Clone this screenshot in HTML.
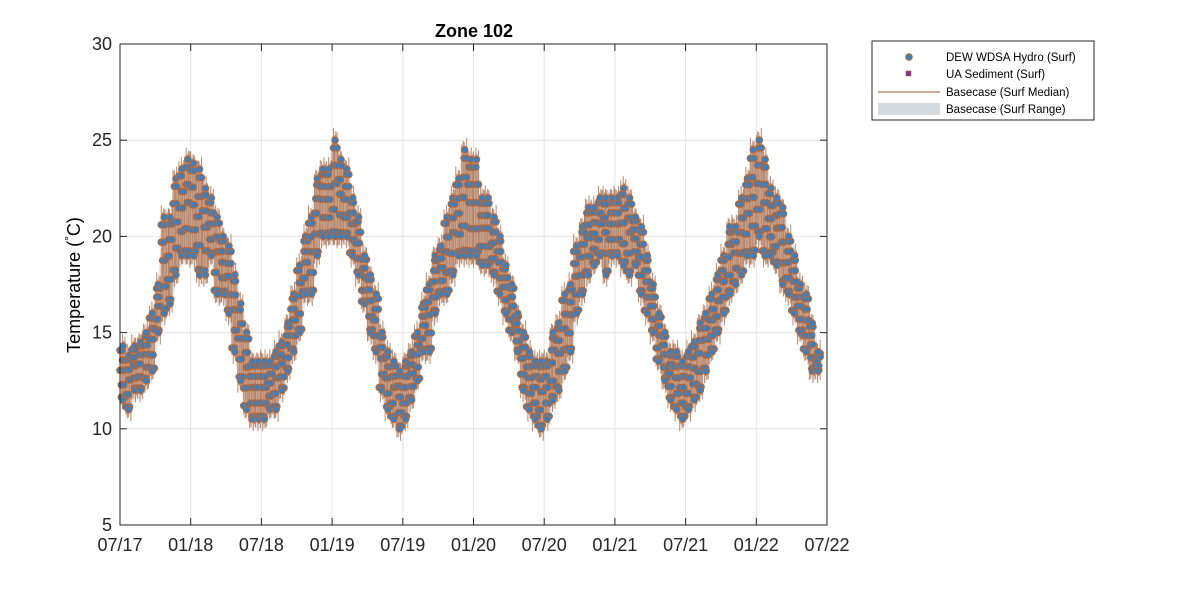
<!DOCTYPE html>
<html><head><meta charset="utf-8"><style>
html,body{margin:0;padding:0;background:#fff;}
svg text{font-family:"Liberation Sans",Arial,sans-serif;}
</style></head><body>
<svg id="chart" width="1181" height="591" viewBox="0 0 1181 591" xmlns="http://www.w3.org/2000/svg">
<rect width="1181" height="591" fill="#fff"/>
<g id="grid"></g>
<g id="band"></g>
<g id="med"></g>
<g id="pts"></g>
<rect x="120" y="44" width="707" height="481" fill="none" stroke="#262626" stroke-width="1"/>
<g id="axes"></g>
<text x="474" y="37" text-anchor="middle" font-size="18" font-weight="bold" fill="#000">Zone 102</text>
<text transform="translate(80,285) rotate(-90)" text-anchor="middle" font-size="18" fill="#000">Temperature (<tspan font-size="12" dy="-7">°</tspan><tspan dy="7">C)</tspan></text>
<g>
<rect x="872" y="41" width="222" height="79" fill="#fff" stroke="#262626" stroke-width="1"/>
<g><circle cx="909" cy="57" r="3.3" fill="#3a7fbf" stroke="#c0662f" stroke-width="1"/><text x="946" y="61" font-size="11.5" fill="#000">DEW WDSA Hydro (Surf)</text></g>
<g><rect x="906" y="71" width="5" height="5" fill="#7e2f8e" stroke="#c06060" stroke-width="0.6"/><text x="946" y="78" font-size="11.5" fill="#000">UA Sediment (Surf)</text></g>
<g><line x1="878" y1="92" x2="940" y2="92" stroke="#a0522d" stroke-width="1"/><text x="946" y="96" font-size="11.5" fill="#000">Basecase (Surf Median)</text></g>
<g><rect x="878" y="103" width="62" height="12" fill="#d3dbdf"/><text x="946" y="113" font-size="11.5" fill="#000">Basecase (Surf Range)</text></g>
</g>
</svg>
<script>
const yTicks=[5,10,15,20,25,30];
const xTickLabels=["07/17","01/18","07/18","01/19","07/19","01/20","07/20","01/21","07/21","01/22","07/22"];
const obsLo=[11.5,11,12,12,12.5,13,15,16,16.5,18,19,19,19,18,18,19,17,17,16,14,12.5,11,10.5,10.5,10.5,11,11,12,13,14,15,17,17,19,20,20,20,20,20,19,18,16.5,15,14,12,11,10.5,10,10.5,11.5,12.5,14,14,16,17,17,18,19,19,19,19,18.5,18.5,18,17,16,15,14,12,11,10.5,10,10.5,11.5,12,13,14,16,17,18,18.5,19,18,19,19,18.5,18,18.5,17,16,15,13.5,12.5,11.5,11,10.5,11,11.5,12,13,14,15,16,17,17.5,18,19,19,20,19,19,18.5,17.5,17,16,15,14,13,13];
const obsHi=[14.3,13.8,14.3,14.5,15,16,17.5,21,21,23,23.5,24,23.8,23.5,22.5,22,21,20,19.5,18,16.5,15,13.5,13.5,13.5,13.5,14,14.5,15.5,17,18.5,20,21,23,23.5,23.5,25,24,23.5,22,21,19,18,17,15,14,13.5,13,13.5,14,15,16.5,17.5,19,19.5,21,22,23,24.5,24,24,22,22,21,20,18.5,17.5,16,15,14,13.5,13.5,13.5,15,15.5,17,17.5,19.5,20.5,21.5,21.5,22,22,22,22,22.5,22,21,20.5,19,17.5,16,15,14,14,13.5,14,14.5,15.5,16,17,18,19,20.5,20.5,22,23,24.5,25,24,22.5,22,21.5,20,19,17.5,17,15.5,14];
const X0=120,X1=827,Y0=525,Y1=44,NM=60;
const xs=m=>X0+(X1-X0)*m/NM;
const ys=t=>Y0-(Y0-Y1)*(t-5)/25;
const NS="http://www.w3.org/2000/svg";
function mk(tag,attrs,parent){const e=document.createElementNS(NS,tag);for(const k in attrs)e.setAttribute(k,attrs[k]);parent.appendChild(e);return e;}
const gridG=document.getElementById('grid'),axesG=document.getElementById('axes');
yTicks.forEach(t=>{
  const g=mk('line',{x1:X0,x2:X1,y1:ys(t),y2:ys(t),stroke:'#e3e3e3','stroke-width':1},gridG);
  
  
  mk('line',{x1:X0,x2:X0+7,y1:ys(t),y2:ys(t),stroke:'#262626'},axesG);
  mk('line',{x1:X1,x2:X1-7,y1:ys(t),y2:ys(t),stroke:'#262626'},axesG);
  const tx=mk('text',{x:X0-8,y:ys(t)+6,'text-anchor':'end','font-size':18,fill:'#262626'},axesG);
  tx.textContent=t;
  
  
});
xTickLabels.forEach((l,i)=>{
  const x=xs(i*6);
  const g=mk('line',{x1:x,x2:x,y1:Y0,y2:Y1,stroke:'#e3e3e3','stroke-width':1},gridG);
  
  
  mk('line',{x1:x,x2:x,y1:Y0,y2:Y0-7,stroke:'#262626'},axesG);
  mk('line',{x1:x,x2:x,y1:Y1,y2:Y1+7,stroke:'#262626'},axesG);
  const tx=mk('text',{x:x,y:Y0+26,'text-anchor':'middle','font-size':18,fill:'#262626'},axesG);
  tx.textContent=l;
  
  
});
const bandG=document.getElementById('band'),medG=document.getElementById('med'),ptsG=document.getElementById('pts');
const NPT=Math.min(obsLo.length,obsHi.length);
let upperPath='',lowerPath='';
for(let i=0;i<NPT;i++){const x=xs(i/2+0.25);upperPath+=(i?'L':'M')+x+','+(ys(obsHi[i])-7);lowerPath='L'+x+','+(ys(obsLo[i])+9)+lowerPath;}
const bp=mk('path',{d:upperPath+lowerPath+'Z',fill:'#d3dbdf',opacity:0.6},bandG);


const offs=[0,0.23,0.41,0.62,0.84];
const fr=[0.55,0.05,0.92,0.28,0.74];
const spk=[8,3,12,5,9];
for(let i=0;i<NPT;i++){
  const lo=obsLo[i],hi=obsHi[i];
  offs.forEach((o,k)=>{
    const x=xs(i/2+o/2);
    const l=mk('line',{x1:x,x2:x,y1:ys(hi)-spk[(k+i)%5],y2:ys(lo)+spk[(k+i+2)%5],stroke:'#a8623a','stroke-width':1,opacity:0.75},medG);
    
    
  });
  offs.forEach((o,k)=>{
    [fr[(k+i)%5],fr[(k+i+2)%5]].forEach(f=>{
      const c=mk('circle',{cx:xs(i/2+o/2),cy:ys(lo+(hi-lo)*f),r:3.3,fill:'#3a7fbf',stroke:'#c0662f','stroke-width':1},ptsG);
      
      
    });
  });
  [lo,hi].forEach(v=>{
    const c=mk('circle',{cx:xs(i/2+0.25),cy:ys(v),r:3.3,fill:'#3a7fbf',stroke:'#c0662f','stroke-width':1},ptsG);
    
    
  });
}
</script>
</body></html>
